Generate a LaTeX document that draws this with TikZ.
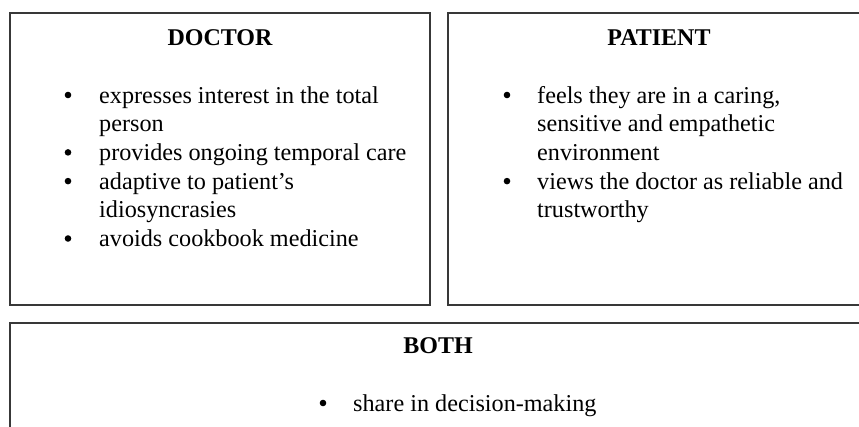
\documentclass[tikz,border=0pt]{standalone}
\usepackage{fontspec}
\setmainfont{Liberation Serif}
\begin{document}
\begin{tikzpicture}[x=1pt,y=-1pt,
  boxline/.style={draw=black!78,line width=1.7pt},
  txt/.style={anchor=base west,inner sep=0pt,font=\fontsize{24.2}{28.7}\selectfont},
  bul/.style={circle,fill=black,inner sep=0pt,minimum size=6.6pt},
  head/.style={anchor=base,inner sep=0pt,font=\fontsize{24}{28.7}\selectfont\bfseries}]
\fill[white] (0,0) rectangle (859,426);
\clip (0,0) rectangle (859,426);
% boxes
\draw[boxline] (10,13) rectangle (430,305);
\draw[boxline] (448,13) rectangle (870,305);
\draw[boxline] (10,323) rectangle (867,445);
% DOCTOR
\node[head] (dh) at (220,45) {DOCTOR};
\node[bul] (db1) at (68,95) {};
\node[txt] (d1a) at (99,103) {expresses interest in the total};
\node[txt] (d1b) at (99,131.7) {person};
\node[bul] (db2) at (68,152.4) {};
\node[txt] (d2) at (99,160.4) {provides ongoing temporal care};
\node[bul] (db3) at (68,181.1) {};
\node[txt] (d3a) at (99,189.1) {adaptive to patient’s};
\node[txt] (d3b) at (99,217.8) {idiosyncrasies};
\node[bul] (db4) at (68,238.5) {};
\node[txt] (d4) at (99,246.5) {avoids cookbook medicine};
% PATIENT
\node[head] (ph) at (659,45) {PATIENT};
\node[bul] (pb1) at (507,95) {};
\node[txt] (p1a) at (537,103) {feels they are in a caring,};
\node[txt] (p1b) at (537,131.7) {sensitive and empathetic};
\node[txt] (p1c) at (537,160.4) {environment};
\node[bul] (pb2) at (507,181.1) {};
\node[txt] (p2a) at (537,189.1) {views the doctor as reliable and};
\node[txt] (p2b) at (537,217.8) {trustworthy};
% BOTH
\node[head] (bh) at (438,353) {BOTH};
\node[bul] (bb1) at (323,403) {};
\node[txt] (b1) at (353,411) {share in decision-making};
\end{tikzpicture}
\end{document}
